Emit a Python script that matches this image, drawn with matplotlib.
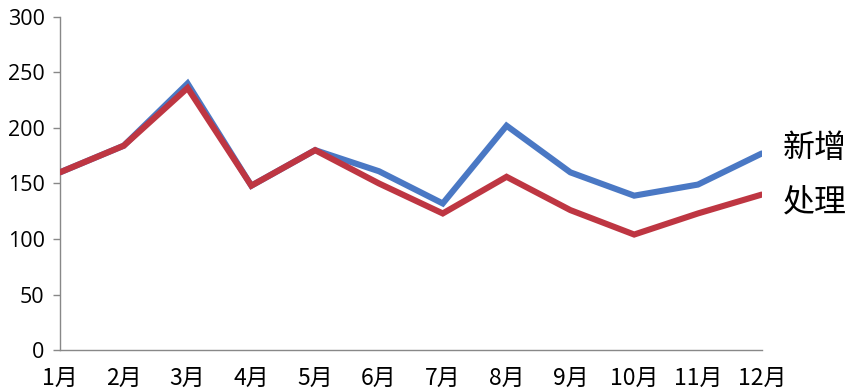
import matplotlib
matplotlib.use("Agg")
import matplotlib.pyplot as plt

plt.rcParams['font.family'] = ['Open Sans', 'Noto Sans CJK SC', 'DejaVu Sans']

months = ["1月", "2月", "3月", "4月", "5月", "6月", "7月", "8月", "9月", "10月", "11月", "12月"]
new_items = [160, 184, 240, 148, 180, 161, 132, 202, 160, 139, 149, 177]
handled = [160, 184, 236, 148, 180, 150, 123, 156, 126, 104, 123, 140]
series_names = ["新增", "处理"]
yticks = [0, 50, 100, 150, 200, 250, 300]

fig = plt.figure(figsize=(8.59, 3.92), dpi=100)
ax = fig.add_axes([0.0698, 0.107, 0.817, 0.85])

x = list(range(len(months)))
blue = "#4A78C4"
red = "#BE3642"
ax.plot(x, new_items, color=blue, lw=4.4, solid_capstyle='round', solid_joinstyle='miter', zorder=2)
ax.plot(x, handled, color=red, lw=4.4, solid_capstyle='round', solid_joinstyle='miter', zorder=3)

ax.set_xlim(0, len(months) - 1)
ax.set_ylim(0, 300)
ax.set_yticks(yticks)
ax.set_xticks(x)
ax.set_xticklabels(months, fontsize=16.5, family=['Noto Sans CJK SC', 'DejaVu Sans'])
ax.set_yticklabels([str(v) for v in yticks], fontsize=15.5)
ax.tick_params(axis='x', length=0, pad=12)
ax.tick_params(axis='y', length=5, width=1.0, color='#888888', pad=6)
for s in ['top', 'right']:
    ax.spines[s].set_visible(False)
for s in ['left', 'bottom']:
    ax.spines[s].set_color('#888888')
    ax.spines[s].set_linewidth(1.0)

ax.annotate(series_names[0], xy=(x[-1], new_items[-1]), xytext=(15, 4), textcoords='offset points',
            fontsize=23, va='center', ha='left', family=['Noto Sans CJK SC'], annotation_clip=False)
ax.annotate(series_names[1], xy=(x[-1], handled[-1]), xytext=(15, -6), textcoords='offset points',
            fontsize=23, va='center', ha='left', family=['Noto Sans CJK SC'], annotation_clip=False)

fig.savefig("out.png", dpi=100)
